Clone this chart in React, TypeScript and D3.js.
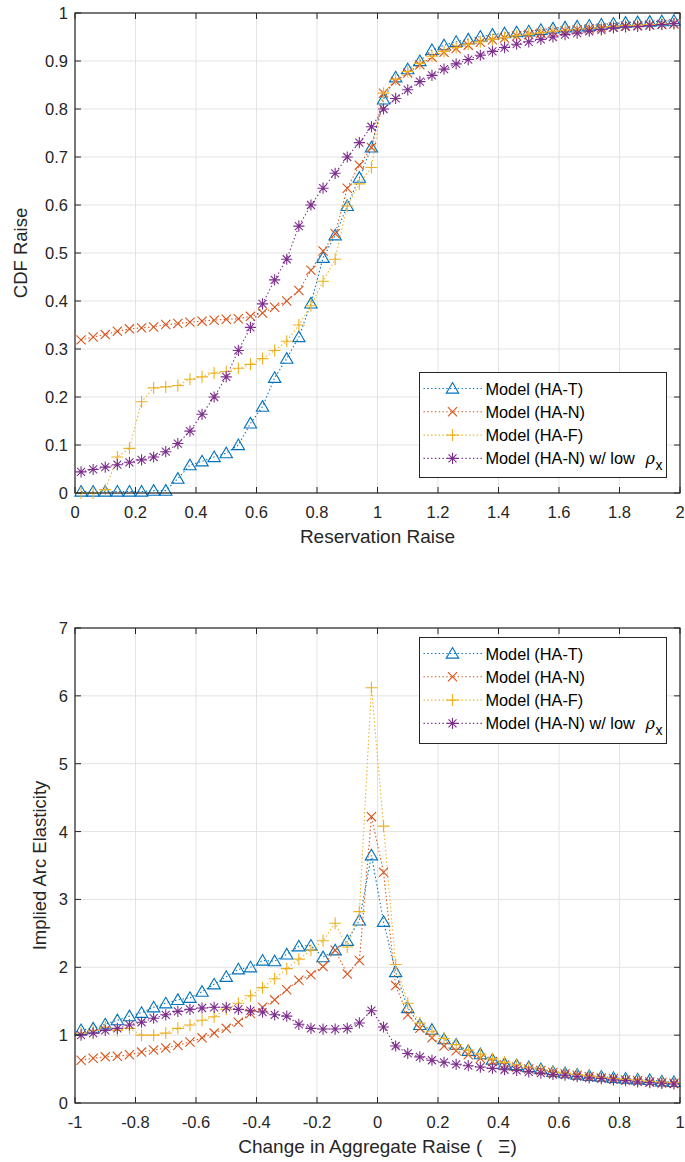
import React, { useEffect, useRef } from 'react';
import * as d3 from 'd3';

// x positions: bin midpoints, 0.04 apart
const xTop = d3.range(50).map(i => +(0.02 + i * 0.04).toFixed(2));
const xBottom = d3.range(50).map(i => +(-0.98 + i * 0.04).toFixed(2));

const topHAT = [0.003, 0.003, 0.003, 0.003, 0.003, 0.003, 0.005, 0.005, 0.03, 0.058, 0.066, 0.075, 0.083, 0.1, 0.145, 0.18, 0.24, 0.28, 0.325, 0.395, 0.49, 0.537, 0.598, 0.657, 0.72,
  0.82, 0.866, 0.883, 0.9, 0.923, 0.933, 0.94, 0.945, 0.951, 0.955, 0.958, 0.96, 0.962, 0.965, 0.968, 0.97, 0.972, 0.974, 0.976, 0.978, 0.98, 0.981, 0.982, 0.983, 0.984];
const topHAN = [0.319, 0.325, 0.33, 0.337, 0.342, 0.344, 0.346, 0.351, 0.353, 0.356, 0.358, 0.36, 0.362, 0.363, 0.368, 0.375, 0.387, 0.4, 0.422, 0.464, 0.504, 0.54, 0.635, 0.683, 0.72,
  0.833, 0.858, 0.875, 0.892, 0.908, 0.918, 0.926, 0.933, 0.939, 0.944, 0.948, 0.952, 0.955, 0.958, 0.961, 0.963, 0.965, 0.967, 0.969, 0.971, 0.973, 0.974, 0.975, 0.976, 0.977];
const topHAF = [0, 0, 0.007, 0.075, 0.093, 0.19, 0.219, 0.221, 0.224, 0.237, 0.242, 0.25, 0.253, 0.26, 0.268, 0.28, 0.297, 0.316, 0.35, 0.39, 0.441, 0.487, 0.598, 0.644, 0.678,
  0.833, 0.862, 0.878, 0.895, 0.91, 0.92, 0.928, 0.935, 0.94, 0.945, 0.949, 0.953, 0.956, 0.959, 0.962, 0.964, 0.966, 0.968, 0.97, 0.972, 0.974, 0.975, 0.976, 0.977, 0.978];
const topLowRho = [0.044, 0.049, 0.054, 0.059, 0.064, 0.069, 0.075, 0.086, 0.103, 0.129, 0.164, 0.2, 0.242, 0.297, 0.345, 0.394, 0.444, 0.487, 0.556, 0.6, 0.635, 0.666, 0.7, 0.73, 0.763,
  0.8, 0.822, 0.84, 0.857, 0.87, 0.883, 0.894, 0.903, 0.912, 0.92, 0.928, 0.935, 0.94, 0.945, 0.95, 0.955, 0.958, 0.962, 0.965, 0.969, 0.971, 0.972, 0.974, 0.976, 0.978];

const botHAT = [1.075, 1.1, 1.16, 1.22, 1.28, 1.33, 1.41, 1.47, 1.52, 1.55, 1.64, 1.75, 1.86, 1.97, 2.0, 2.1, 2.09, 2.19, 2.31, 2.32, 2.15, 2.25, 2.39, 2.69, 3.65,
  2.67, 1.93, 1.4, 1.15, 1.08, 0.94, 0.86, 0.77, 0.72, 0.64, 0.58, 0.56, 0.53, 0.5, 0.46, 0.44, 0.42, 0.4, 0.39, 0.37, 0.36, 0.35, 0.34, 0.32, 0.31];
const botHAN = [0.63, 0.66, 0.68, 0.69, 0.71, 0.75, 0.78, 0.81, 0.85, 0.9, 0.96, 1.03, 1.1, 1.19, 1.32, 1.41, 1.52, 1.67, 1.81, 1.89, 2.01, 2.25, 1.9, 2.1, 4.22,
  3.4, 1.73, 1.3, 1.1, 0.96, 0.84, 0.77, 0.71, 0.66, 0.61, 0.56, 0.53, 0.5, 0.48, 0.45, 0.43, 0.41, 0.39, 0.37, 0.36, 0.34, 0.33, 0.31, 0.3, 0.29];
const botHAF = [1.03, 1.07, 1.12, 1.07, 1.1, 1.0, 1.0, 1.03, 1.1, 1.15, 1.22, 1.27, 1.38, 1.47, 1.58, 1.7, 1.83, 1.98, 2.12, 2.25, 2.39, 2.65, 2.3, 2.82, 6.12,
  4.08, 2.04, 1.47, 1.18, 1.05, 0.95, 0.86, 0.78, 0.72, 0.65, 0.6, 0.56, 0.52, 0.49, 0.46, 0.44, 0.42, 0.4, 0.38, 0.36, 0.35, 0.34, 0.32, 0.31, 0.3];
const botLowRho = [1.0, 1.03, 1.07, 1.1, 1.15, 1.19, 1.25, 1.3, 1.35, 1.38, 1.4, 1.41, 1.41, 1.38, 1.36, 1.34, 1.3, 1.28, 1.16, 1.1, 1.09, 1.09, 1.1, 1.18, 1.36,
  1.12, 0.84, 0.73, 0.68, 0.63, 0.6, 0.57, 0.55, 0.53, 0.51, 0.49, 0.48, 0.46, 0.44, 0.42, 0.41, 0.39, 0.37, 0.36, 0.34, 0.33, 0.31, 0.3, 0.29, 0.28];

const seriesNames = ['Model (HA-T)', 'Model (HA-N)', 'Model (HA-F)', 'Model (HA-N) w/ low'];
const seriesColors = ['#0072BD', '#D95319', '#EDB120', '#7E2F8E'];
const seriesMarkers = ['triangle', 'x', 'plus', 'star'];

const topTicksX = d3.range(0, 2.0001, 0.2);
const topTicksY = d3.range(0, 1.0001, 0.1);
const botTicksX = d3.range(-1, 1.0001, 0.2);
const botTicksY = d3.range(0, 7.0001, 1);

const FONT = '"Liberation Sans", Arial, Helvetica, sans-serif';

const fmt = (v: number) => {
  const r = Math.round(v * 10) / 10;
  return (Math.abs(r) < 1e-9 ? 0 : r).toString();
};

// draw one MATLAB-style marker at (0,0) into group g
const drawMarker = (g: any, type: string, color: string) => {
  if (type === 'triangle') {
    g.append('path').attr('d', 'M0,-6L6.2,4.6L-6.2,4.6Z')
      .attr('fill', 'none').attr('stroke', color).attr('stroke-width', 1.1);
  } else if (type === 'x') {
    g.append('path').attr('d', 'M-4.6,-4.6L4.6,4.6M-4.6,4.6L4.6,-4.6')
      .attr('stroke', color).attr('stroke-width', 1.1);
  } else if (type === 'plus') {
    g.append('path').attr('d', 'M-6,0L6,0M0,-6L0,6')
      .attr('stroke', color).attr('stroke-width', 1.1);
  } else {
    g.append('path').attr('d', 'M0,-5.6L0,5.6M-5.6,0L5.6,0M-4,-4L4,4M-4,4L4,-4')
      .attr('stroke', color).attr('stroke-width', 1.1);
  }
};

const drawPanel = (svg: any, opts: any) => {
  const { left, right, top, bottom, xDomain, yDomain, xTicks, yTicks, xs, series, xLabel, yLabel, yLabelX, legendBox } = opts;
  const x = d3.scaleLinear().domain(xDomain).range([left, right]);
  const y = d3.scaleLinear().domain(yDomain).range([bottom, top]);
  const g = svg.append('g');

  // white plot background
  g.append('rect').attr('x', left).attr('y', top).attr('width', right - left).attr('height', bottom - top).attr('fill', 'white');

  // grid
  g.selectAll('.gx').data(xTicks).enter().append('line')
    .attr('x1', (d: number) => x(d)).attr('x2', (d: number) => x(d))
    .attr('y1', top).attr('y2', bottom)
    .attr('stroke', '#e3e3e3').attr('stroke-width', 1);
  g.selectAll('.gy').data(yTicks).enter().append('line')
    .attr('y1', (d: number) => y(d)).attr('y2', (d: number) => y(d))
    .attr('x1', left).attr('x2', right)
    .attr('stroke', '#e3e3e3').attr('stroke-width', 1);

  // series: dotted line + markers
  const clipId = 'clip' + top;
  svg.append('clipPath').attr('id', clipId).append('rect')
    .attr('x', left - 8).attr('y', top - 8).attr('width', right - left + 16).attr('height', bottom - top + 16);
  const line = d3.line<number>().x((d, i) => x(xs[i])).y(d => y(d));
  series.forEach((vals: number[], si: number) => {
    const sg = g.append('g').attr('clip-path', `url(#${clipId})`);
    sg.append('path').attr('d', line(vals)).attr('fill', 'none')
      .attr('stroke', seriesColors[si]).attr('stroke-width', 1.1)
      .attr('stroke-dasharray', '1.4,2.4');
    vals.forEach((v, i) => {
      const mg = sg.append('g').attr('transform', `translate(${x(xs[i])},${y(v)})`);
      drawMarker(mg, seriesMarkers[si], seriesColors[si]);
    });
  });

  // box + inward ticks on all four sides
  const axisColor = '#262626';
  g.append('rect').attr('x', left).attr('y', top).attr('width', right - left).attr('height', bottom - top)
    .attr('fill', 'none').attr('stroke', axisColor).attr('stroke-width', 1.2);
  const tl = 6;
  xTicks.forEach((t: number) => {
    g.append('line').attr('x1', x(t)).attr('x2', x(t)).attr('y1', bottom).attr('y2', bottom - tl).attr('stroke', axisColor);
    g.append('line').attr('x1', x(t)).attr('x2', x(t)).attr('y1', top).attr('y2', top + tl).attr('stroke', axisColor);
  });
  yTicks.forEach((t: number) => {
    g.append('line').attr('y1', y(t)).attr('y2', y(t)).attr('x1', left).attr('x2', left + tl).attr('stroke', axisColor);
    g.append('line').attr('y1', y(t)).attr('y2', y(t)).attr('x1', right).attr('x2', right - tl).attr('stroke', axisColor);
  });

  // tick labels
  g.selectAll('.tx').data(xTicks).enter().append('text')
    .attr('x', (d: number) => x(d)).attr('y', bottom + 25)
    .attr('text-anchor', 'middle').attr('font-family', FONT).attr('font-size', 16.5).attr('fill', '#262626')
    .text((d: number) => fmt(d));
  g.selectAll('.ty').data(yTicks).enter().append('text')
    .attr('x', left - 7).attr('y', (d: number) => y(d) + 6)
    .attr('text-anchor', 'end').attr('font-family', FONT).attr('font-size', 16.5).attr('fill', '#262626')
    .text((d: number) => fmt(d));

  // axis titles
  const xt = g.append('text').attr('x', (left + right) / 2).attr('y', bottom + 50)
    .attr('text-anchor', 'middle').attr('font-family', FONT).attr('font-size', 19).attr('fill', '#262626')
    .style('white-space', 'pre');
  xLabel(xt);
  g.append('text').attr('transform', `translate(${yLabelX},${(top + bottom) / 2}) rotate(-90)`)
    .attr('text-anchor', 'middle').attr('font-family', FONT).attr('font-size', 18.5).attr('fill', '#262626')
    .text(yLabel);

  // legend
  const lb = legendBox;
  const lg = g.append('g');
  lg.append('rect').attr('x', lb.x).attr('y', lb.y).attr('width', lb.w).attr('height', lb.h)
    .attr('fill', 'white').attr('stroke', axisColor).attr('stroke-width', 1);
  seriesNames.forEach((name, si) => {
    const ry = lb.y + 16 + si * 23.3;
    lg.append('line').attr('x1', lb.x + 4).attr('x2', lb.x + 63).attr('y1', ry).attr('y2', ry)
      .attr('stroke', seriesColors[si]).attr('stroke-width', 1.1).attr('stroke-dasharray', '1.4,2.4');
    const mg = lg.append('g').attr('transform', `translate(${lb.x + 33},${ry})`);
    drawMarker(mg, seriesMarkers[si], seriesColors[si]);
    lg.append('text').attr('x', lb.x + 66).attr('y', ry + 6)
      .attr('font-family', FONT).attr('font-size', 16.3).attr('fill', 'black').text(name);
    if (si === 3) {
      lg.append('text').attr('x', lb.x + 226).attr('y', ry + 6)
        .attr('font-family', '"DejaVu Serif", serif').attr('font-style', 'italic').attr('font-size', 16).attr('fill', 'black').text('ρ');
      lg.append('text').attr('x', lb.x + 236).attr('y', ry + 12)
        .attr('font-family', FONT).attr('font-size', 14).attr('fill', 'black').text('x');
    }
  });
};

const App = () => {
  const svgRef = useRef<SVGSVGElement>(null);

  useEffect(() => {
    const svg = d3.select(svgRef.current);
    svg.selectAll('*').remove();
    svg.append('rect').attr('width', 685).attr('height', 1162).attr('fill', 'white');

    drawPanel(svg, {
      left: 75, right: 680, top: 13, bottom: 493,
      xDomain: [0, 2], yDomain: [0, 1],
      xTicks: topTicksX, yTicks: topTicksY, xs: xTop,
      series: [topHAT, topHAN, topHAF, topLowRho],
      xLabel: (t: any) => t.text('Reservation Raise'),
      yLabel: 'CDF Raise', yLabelX: 27,
      legendBox: { x: 419.5, y: 372.5, w: 247, h: 105 },
    });

    drawPanel(svg, {
      left: 75, right: 680, top: 628, bottom: 1103,
      xDomain: [-1, 1], yDomain: [0, 7],
      xTicks: botTicksX, yTicks: botTicksY, xs: xBottom,
      series: [botHAT, botHAN, botHAF, botLowRho],
      xLabel: (t: any) => t.text('Change in Aggregate Raise (   Ξ)'),
      yLabel: 'Implied Arc Elasticity', yLabelX: 46,
      legendBox: { x: 419.5, y: 637.5, w: 247, h: 106 },
    });
  }, []);

  return (
    <svg ref={svgRef} width={685} height={1162}
      style={{ position: 'absolute', left: 0, top: 0, display: 'block' }} />
  );
};

export default App;
